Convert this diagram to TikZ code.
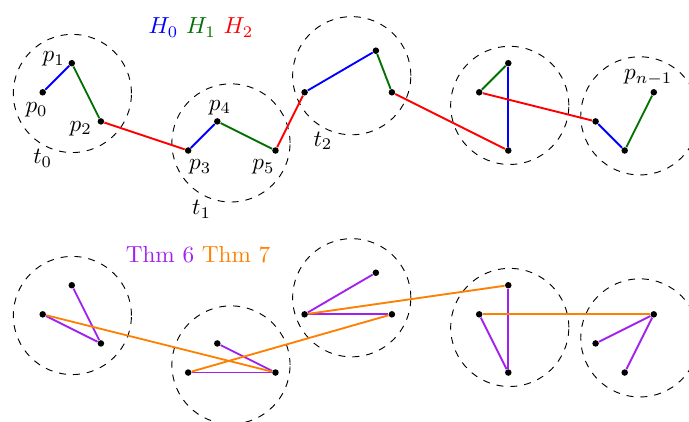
\documentclass[tikz,border=0pt]{standalone}
\definecolor{hgreen}{RGB}{0,112,0}
\definecolor{thmsix}{RGB}{160,32,240}
\tikzset{
  dot/.style={circle,fill=black,inner sep=0pt,minimum size=2.8pt},
  ball/.style={dashed},
  link/.style={thick}
}
\begin{document}
\begin{tikzpicture}[x=0.44cm,y=0.44cm]
\useasboundingbox (-1.467,-11.30) rectangle (22.21,3.172);
% the same points in both rows
\foreach \i/\x/\y in {0/0/0,1/1/1,2/2/-1,3/5/-2,4/6/-1,5/8/-2,6/9/0,7/11.45/1.43,
  8/12/0,9/16/-2,10/16/1,11/15/0,12/19/-1,13/20/-2,14/21/0}{
  \node[dot] (p\i) at (\x,\y) {};
  \node[dot] (q\i) at (\x,\y-7.63) {};
}
% balls
\foreach \cx/\cy in {1.02/-0.04,6.47/-1.74,10.62/0.57,16.05/-0.45,20.52/-0.81}{
  \draw[ball] (\cx,\cy) circle (2.03);
  \draw[ball] (\cx,\cy-7.63) circle (2.03);
}
% top row: path coloured by H_0, H_1, H_2
\foreach \i/\j/\c in {0/1/blue,1/2/hgreen,2/3/red,3/4/blue,4/5/hgreen,5/6/red,
  6/7/blue,7/8/hgreen,8/9/red,9/10/blue,10/11/hgreen,11/12/red,12/13/blue,13/14/hgreen}
  \draw[link,\c] (p\i) -- (p\j);
% bottom row
\foreach \i/\j in {0/2,1/2,4/5,3/5,6/7,6/8,10/9,11/9,14/12,14/13}
  \draw[link,thmsix] (q\i) -- (q\j);
\foreach \i/\j in {0/5,3/8,6/10,11/14}
  \draw[link,orange] (q\i) -- (q\j);
% labels
\node (l0) at (-0.21,-0.61) {$p_0$};
\node (l1) at (0.38,1.14) {$p_1$};
\node (l2) at (1.31,-1.24) {$p_2$};
\node (l3) at (5.41,-2.56) {$p_3$};
\node (l4) at (6.09,-0.52) {$p_4$};
\node (l5) at (7.59,-2.56) {$p_5$};
\node (ln) at (20.81,0.51) {$p_{n-1}$};
\node (t0) at (0.0,-2.27) {$t_0$};
\node (t1) at (5.46,-4.02) {$t_1$};
\node (t2) at (9.63,-1.67) {$t_2$};
\node (hkey) at (5.44,2.23) {\textcolor{blue}{$H_0$} \textcolor{hgreen}{$H_1$} \textcolor{red}{$H_2$}};
\node (thmkey) at (5.34,-5.58) {\textcolor{thmsix}{Thm 6} \textcolor{orange}{Thm 7}};
\end{tikzpicture}
\end{document}
